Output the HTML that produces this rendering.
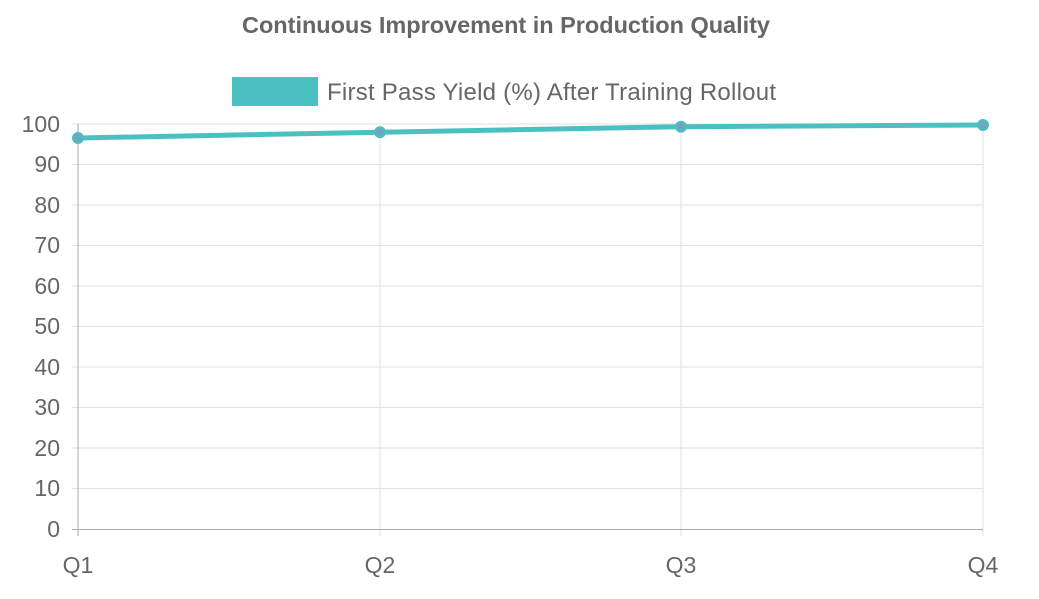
<!DOCTYPE html>
<html><head><style>body{margin:0;background:#fff}</style></head><body>
<svg width="1039" height="594" xmlns="http://www.w3.org/2000/svg" font-family="Liberation Sans, sans-serif">
<text x="506" y="33" text-anchor="middle" font-size="23.5" font-weight="bold" fill="#666" textLength="528">Continuous Improvement in Production Quality</text>
<rect x="232" y="77" width="86" height="29" fill="#4bc0c0"/>
<text x="327" y="100" font-size="24" fill="#666" textLength="449">First Pass Yield (%) After Training Rollout</text>
<g stroke="#e2e2e2" stroke-width="1">
<line x1="72" y1="124" x2="983" y2="124"/><line x1="72" y1="164.5" x2="983" y2="164.5"/>
<line x1="72" y1="205" x2="983" y2="205"/><line x1="72" y1="245.5" x2="983" y2="245.5"/>
<line x1="72" y1="286" x2="983" y2="286"/><line x1="72" y1="326.5" x2="983" y2="326.5"/>
<line x1="72" y1="367" x2="983" y2="367"/><line x1="72" y1="407.5" x2="983" y2="407.5"/>
<line x1="72" y1="448" x2="983" y2="448"/><line x1="72" y1="488.5" x2="983" y2="488.5"/>
<line x1="380" y1="124" x2="380" y2="536"/><line x1="681" y1="124" x2="681" y2="536"/><line x1="983" y1="124" x2="983" y2="536"/>
</g>
<line x1="78" y1="124" x2="78" y2="536" stroke="#aaa"/>
<line x1="72" y1="529.5" x2="983" y2="529.5" stroke="#aaa"/>
<g font-size="23" fill="#666" text-anchor="end">
<text x="60" y="132">100</text><text x="60" y="172">90</text><text x="60" y="213">80</text><text x="60" y="253">70</text><text x="60" y="294">60</text><text x="60" y="334">50</text><text x="60" y="375">40</text><text x="60" y="415">30</text><text x="60" y="456">20</text><text x="60" y="496">10</text><text x="60" y="537">0</text>
</g>
<g font-size="23" fill="#666" text-anchor="middle">
<text x="78" y="573">Q1</text><text x="380" y="573">Q2</text><text x="681" y="573">Q3</text><text x="983" y="573">Q4</text>
</g>
<polyline points="78,138 380,132.3 681,126.7 983,125" fill="none" stroke="#4bc0c0" stroke-width="5"/>
<g fill="#6fa7bf" stroke="#4bc0c0" stroke-width="2">
<circle cx="78" cy="138" r="5"/><circle cx="380" cy="132.3" r="5"/><circle cx="681" cy="126.7" r="5"/><circle cx="983" cy="125" r="5"/>
</g>
</svg>
</body></html>
